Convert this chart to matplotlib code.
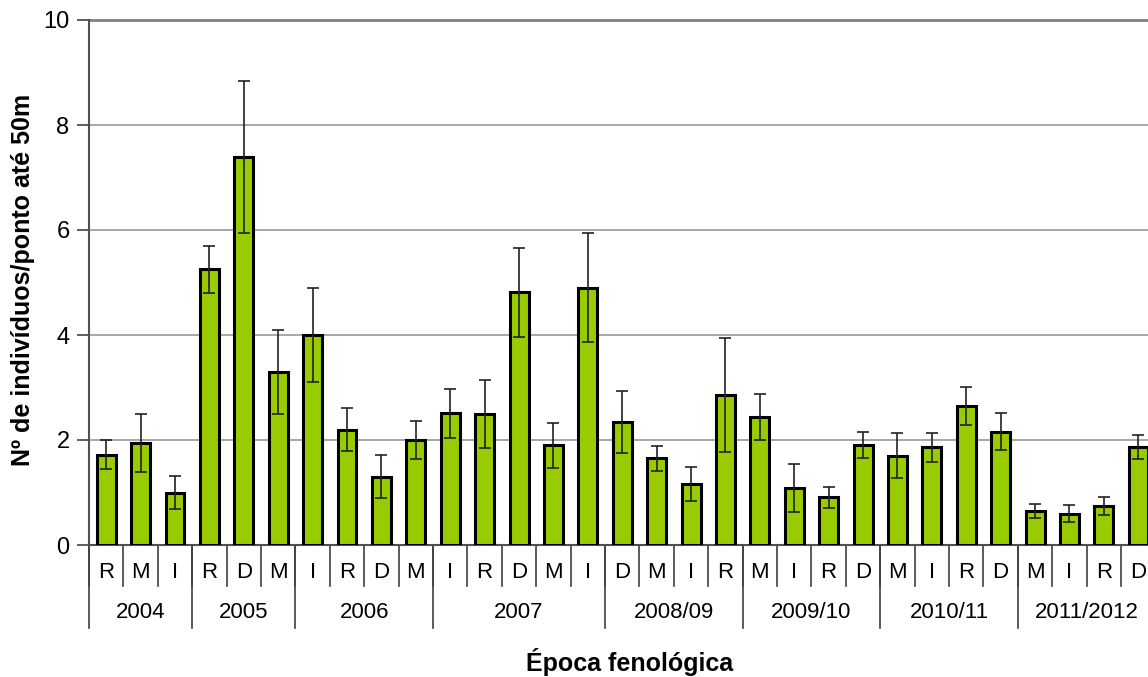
import matplotlib
matplotlib.use("Agg")
import matplotlib.pyplot as plt
import matplotlib.transforms as mtransforms
import numpy as np

plt.rcParams['font.family'] = ['Liberation Sans', 'DejaVu Sans']

# Phenological season codes per survey, grouped by year
groups = ["2004", "2005", "2006", "2007", "2008/09", "2009/10", "2010/11", "2011/2012"]
group_seasons = [
    ["R", "M", "I"],
    ["R", "D", "M"],
    ["I", "R", "D", "M"],
    ["I", "R", "D", "M", "I"],
    ["D", "M", "I", "R"],
    ["M", "I", "R", "D"],
    ["M", "I", "R", "D"],
    ["M", "I", "R", "D"],
]

# Mean number of individuals per point (up to 50 m) and its error
means = [1.72, 1.95, 1.00,
         5.25, 7.39, 3.30,
         4.00, 2.20, 1.30, 2.00,
         2.51, 2.50, 4.81, 1.90, 4.90,
         2.35, 1.65, 1.16, 2.86,
         2.44, 1.09, 0.91, 1.90,
         1.70, 1.86, 2.65, 2.16,
         0.65, 0.60, 0.74, 1.86]
errors = [0.28, 0.55, 0.31,
          0.45, 1.45, 0.80,
          0.89, 0.41, 0.41, 0.36,
          0.47, 0.65, 0.85, 0.43, 1.04,
          0.59, 0.24, 0.32, 1.09,
          0.44, 0.46, 0.20, 0.25,
          0.43, 0.27, 0.36, 0.35,
          0.13, 0.17, 0.17, 0.23]

season_labels = [s for g in group_seasons for s in g]
x = np.arange(len(means))

fig = plt.figure(figsize=(11.48, 6.77), dpi=100)
ax = fig.add_axes([89 / 1148, 1 - 545 / 677, (1155.5 - 89) / 1148, (545 - 20) / 677])

ax.bar(x, means, width=0.55, color="#99CC00", edgecolor="black", linewidth=2.2, zorder=3)
ax.errorbar(x, means, yerr=errors, fmt="none", ecolor="#222222", elinewidth=1.2,
            capsize=4.5, capthick=1.2, zorder=4)

ax.set_xlim(-0.5, len(means) - 0.5)
ax.set_ylim(0, 10)
ax.set_yticks(np.arange(0, 11, 2))
ax.yaxis.grid(True, color="#A0A0A0", linewidth=1.3, zorder=0)
ax.set_axisbelow(True)
ax.tick_params(axis="y", labelsize=17, length=9, width=1.3, color="#505050", pad=5)
ax.set_xticks([])

# Slightly heavier line along the top of the plot area
ax.axhline(10, color="#808080", linewidth=2.0, zorder=1, clip_on=False)

for side in ["top", "right"]:
    ax.spines[side].set_visible(False)
ax.spines["left"].set_color("#505050")
ax.spines["left"].set_linewidth(1.5)
ax.spines["bottom"].set_color("#505050")
ax.spines["bottom"].set_linewidth(1.5)

# Two-level category axis below the plot
trans = mtransforms.blended_transform_factory(ax.transData, ax.transAxes)
px = 1.0 / (545 - 20)  # one pixel in axes-fraction units (vertical)
cat_sep_bottom = -41 * px
grp_sep_bottom = -83 * px

for i, lab in enumerate(season_labels):
    ax.text(i, -27 * px, lab, transform=trans, ha="center", va="center", fontsize=16)

for i in range(len(means)):
    ax.plot([i - 0.5, i - 0.5], [0, cat_sep_bottom], transform=trans, color="#404040",
            linewidth=1.2, clip_on=False)

start = 0
for g, seasons in zip(groups, group_seasons):
    end = start + len(seasons)
    ax.plot([start - 0.5, start - 0.5], [0, grp_sep_bottom], transform=trans, color="#404040",
            linewidth=1.2, clip_on=False)
    ax.text((start + end - 1) / 2, -68 * px, g, transform=trans, ha="center", va="center",
            fontsize=16)
    start = end

fig.text(630 / 1148, 1 - 662 / 677, "Época fenológica", ha="center", va="center",
         fontsize=18, fontweight="bold")
fig.text(23 / 1148, 1 - 280 / 677, "Nº de indivíduos/ponto até 50m", ha="center", va="center",
         rotation=90, fontsize=18, fontweight="bold")

fig.savefig("out.png", dpi=100)
